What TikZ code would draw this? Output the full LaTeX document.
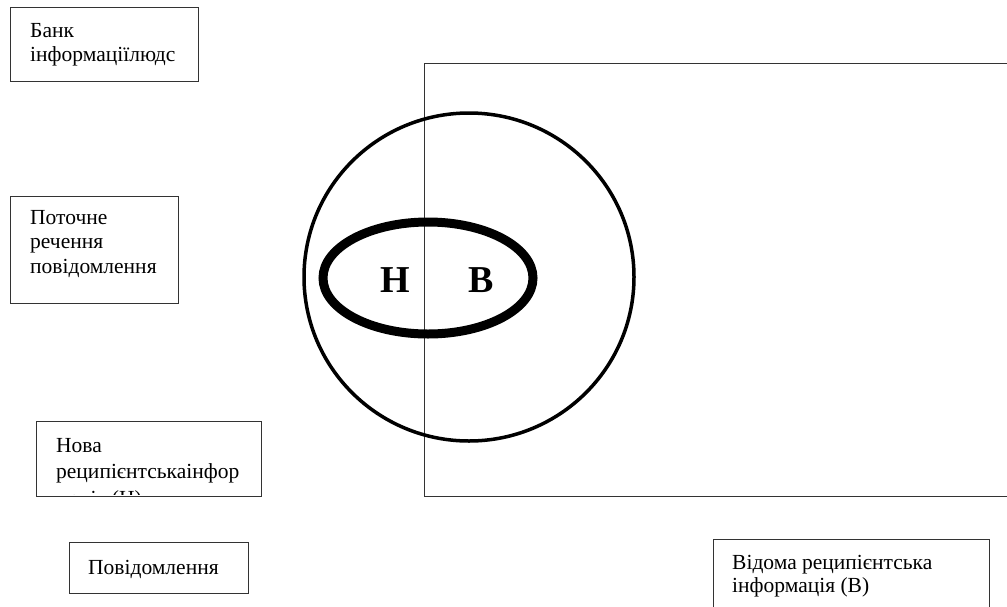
\documentclass[tikz,border=0pt]{standalone}
\usepackage{fontspec}
\setmainfont{Liberation Serif}
\begin{document}
\begin{tikzpicture}[x=1pt,y=-1pt,
  frame/.style={draw=black!80,line width=1pt},
  lbl/.style={inner sep=0pt,anchor=base west,align=left,font=\fontsize{21.5}{24.5}\selectfont},
  big/.style={inner sep=0pt,font=\fontsize{38}{44}\selectfont\bfseries}]
\useasboundingbox (0,0) rectangle (1007,606);
\clip (0,0) rectangle (1007,606);
% boxes (base anchor = baseline of the last line)
\draw[frame] (10,7) rectangle (198,81);
\node[lbl] (t1) at (30,61.5) {Банк\\інформаціїлюдс};
\draw[frame] (10,196) rectangle (178,303);
\node[lbl] (t2) at (30,273) {Поточне\\речення\\повідомлення};
\draw[frame] (36,421) rectangle (261,496);
\begin{scope}
\clip (37,422) rectangle (260,494);
\node[lbl,font=\fontsize{21.5}{26.5}\selectfont] (t3) at (56,505) {Нова\\реципієнтськаінфор\\мація (Н)};
\end{scope}
\draw[frame] (69,542) rectangle (248,593);
\node[lbl] (t4) at (88,574) {Повідомлення};
\draw[frame] (713,620) -- (713,539) -- (989,539) -- (989,620);
\node[lbl,font=\fontsize{21.5}{23}\selectfont] (t5) at (732,592) {Відома реципієнтська\\інформація (В)};
% main figure
\draw[frame] (1015,63) -- (424.5,63) -- (424.5,496) -- (1015,496);
\draw[line width=3.5pt] (469,277) circle [x radius=165, y radius=164];
\draw[line width=9pt] (428,278) ellipse [x radius=105, y radius=56];
\node[big] (h) at (395,280) {Н};
\node[big] (b) at (481,280) {В};
\end{tikzpicture}
\end{document}
